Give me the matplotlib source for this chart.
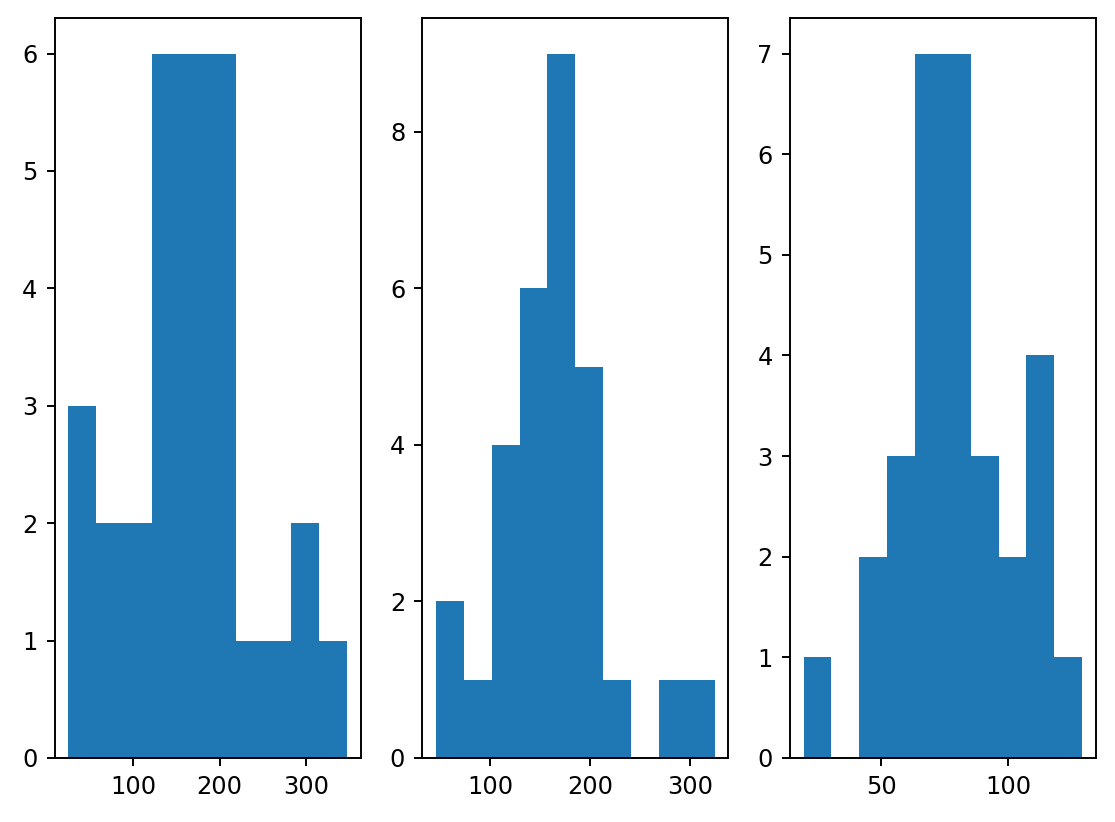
import numpy as np
import matplotlib
matplotlib.use('Agg')
import matplotlib.pyplot as plt

# counts per bin (10 bins each) and the data range (min, max) of each panel
counts_1 = [3, 2, 2, 6, 6, 6, 1, 1, 2, 1]
range_1 = (24.8, 347.7)

counts_2 = [2, 1, 4, 6, 9, 5, 1, 0, 1, 1]
range_2 = (46.2, 324.2)

counts_3 = [1, 0, 2, 3, 7, 7, 3, 2, 4, 1]
range_3 = (19.4, 129.1)

panels = [(counts_1, range_1), (counts_2, range_2), (counts_3, range_3)]

fig, axes = plt.subplots(1, 3, figsize=(1115 / 174, 822 / 174), dpi=174)

for ax, (counts, (lo, hi)) in zip(axes, panels):
    edges = np.linspace(lo, hi, len(counts) + 1)
    centers = (edges[:-1] + edges[1:]) / 2
    ax.hist(centers, bins=edges, weights=counts)

fig.subplots_adjust(left=0.0489, right=0.983, top=0.9777, bottom=0.0779, wspace=0.2)
plt.savefig('out.png', dpi=174)
